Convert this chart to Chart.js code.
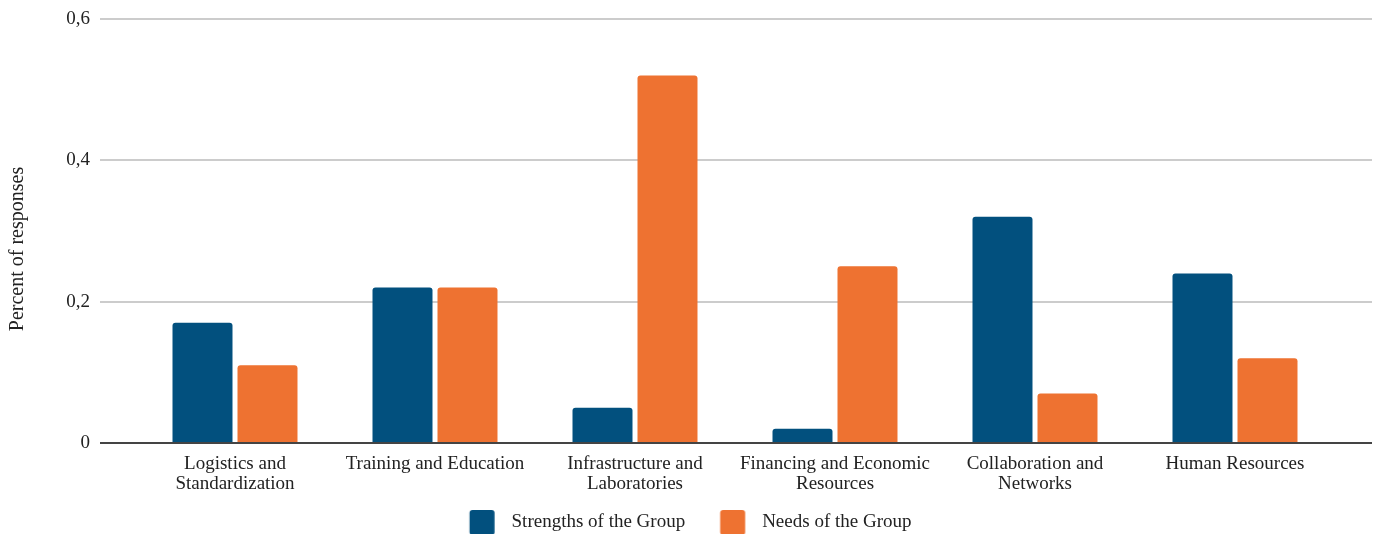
<!DOCTYPE html>
<html>
<head>
<meta charset="utf-8">
<script src="https://cdn.jsdelivr.net/npm/chart.js@4"></script>
<style>
  html, body { margin: 0; padding: 0; background: #fff; overflow: hidden; }
  #wrap { width: 1378px; height: 542px; position: relative; }
</style>
</head>
<body>
<div id="wrap"><canvas id="c"></canvas></div>
<script>
// Category labels, split into the lines shown under each pair of bars
const categories = [
  ['Logistics and', 'Standardization'],
  ['Training and Education'],
  ['Infrastructure and', 'Laboratories'],
  ['Financing and Economic', 'Resources'],
  ['Collaboration and', 'Networks'],
  ['Human Resources']
];
const strengths = [0.17, 0.22, 0.05, 0.02, 0.32, 0.24];
const needs = [0.11, 0.22, 0.52, 0.25, 0.07, 0.12];
const yTicks = [0, 0.2, 0.4, 0.6];
const seriesNames = ['Strengths of the Group', 'Needs of the Group'];
const yTitle = 'Percent of responses';

const BLUE = '#02507e';
const ORANGE = '#ee7231';
const TEXT = '#222222';
const FONT = "'Liberation Serif', 'Times New Roman', serif";

// Legend swatch: a 25px rounded square, offset inside a larger transparent
// canvas so the label text sits a comfortable distance to its right
function swatch(color) {
  const c = document.createElement('canvas');
  c.width = 64;
  c.height = 31;
  const g = c.getContext('2d');
  g.fillStyle = color;
  g.beginPath();
  g.roundRect(31.75, 3, 25, 25, 3);
  g.fill();
  return c;
}

// Horizontal grid lines reach a little past the bar area on both sides,
// and the axis title is drawn slightly below the plot's middle
const wideGrid = {
  id: 'wideGrid',
  beforeDatasetsDraw(chart) {
    const { ctx, chartArea } = chart;
    const y = chart.scales.y;
    ctx.save();
    yTicks.forEach(v => {
      if (v === 0) return;
      const py = Math.round(y.getPixelForValue(v));
      ctx.beginPath();
      ctx.lineWidth = 2;
      ctx.strokeStyle = '#cccccc';
      ctx.moveTo(chartArea.left - 35, py);
      ctx.lineTo(chartArea.right + 37, py);
      ctx.stroke();
    });
    ctx.restore();
  },
  afterDatasetsDraw(chart) {
    const { ctx, chartArea } = chart;
    const py = Math.round(chart.scales.y.getPixelForValue(0));
    ctx.save();
    ctx.beginPath();
    ctx.lineWidth = 2;
    ctx.strokeStyle = '#444444';
    ctx.moveTo(chartArea.left - 35, py);
    ctx.lineTo(chartArea.right + 37, py);
    ctx.stroke();
    // y-axis title
    ctx.translate(18, (chartArea.top + chartArea.bottom) / 2 + 18);
    ctx.rotate(-Math.PI / 2);
    ctx.fillStyle = TEXT;
    ctx.font = '20px ' + FONT;
    ctx.textAlign = 'center';
    ctx.textBaseline = 'middle';
    ctx.fillText(yTitle, 0, 0);
    ctx.restore();
  }
};

const barStyle = {
  borderRadius: { topLeft: 3, topRight: 3, bottomLeft: 0, bottomRight: 0 },
  borderSkipped: 'bottom',
  categoryPercentage: 0.65,
  barPercentage: 0.923
};

new Chart(document.getElementById('c'), {
  type: 'bar',
  data: {
    labels: categories,
    datasets: [
      Object.assign({
        label: seriesNames[0],
        data: strengths,
        backgroundColor: BLUE,
        pointStyle: swatch(BLUE)
      }, barStyle),
      Object.assign({
        label: seriesNames[1],
        data: needs,
        backgroundColor: ORANGE,
        pointStyle: swatch(ORANGE)
      }, barStyle)
    ]
  },
  options: {
    responsive: true,
    maintainAspectRatio: false,
    animation: false,
    layout: { padding: { left: 0, right: 29, top: 19, bottom: 0 } },
    plugins: {
      tooltip: { enabled: false },
      legend: {
        position: 'bottom',
        labels: {
          color: TEXT,
          font: { family: FONT, size: 19 },
          usePointStyle: true,
          pointStyleWidth: 64.5,
          padding: 3
        }
      }
    },
    scales: {
      x: {
        grid: { display: false, drawTicks: false },
        border: { display: false },
        ticks: {
          color: TEXT,
          font: { family: FONT, size: 19, lineHeight: 1.05 },
          padding: 11,
          maxRotation: 0,
          autoSkip: false
        },
        afterFit(scale) { scale.height = 67; }
      },
      y: {
        min: 0,
        max: 0.6,
        afterBuildTicks(scale) { scale.ticks = yTicks.map(v => ({ value: v })); },
        grid: { display: false, drawTicks: false },
        border: { display: false },
        ticks: {
          color: TEXT,
          font: { family: FONT, size: 19 },
          padding: 45,
          callback: v => String(v).replace('.', ',')
        },
        afterFit(scale) {
          scale.width = 135;
          scale.paddingTop = 11;
          scale.paddingBottom = 11;
        }
      },
      // empty strip on the right that keeps the bars clear of the edge
      yRight: {
        type: 'linear',
        position: 'right',
        grid: { display: false, drawTicks: false },
        border: { display: false },
        ticks: { display: false },
        afterFit(scale) {
          scale.width = 14;
          scale.paddingTop = 0;
          scale.paddingBottom = 0;
        }
      }
    }
  },
  plugins: [wideGrid]
});
</script>
</body>
</html>
